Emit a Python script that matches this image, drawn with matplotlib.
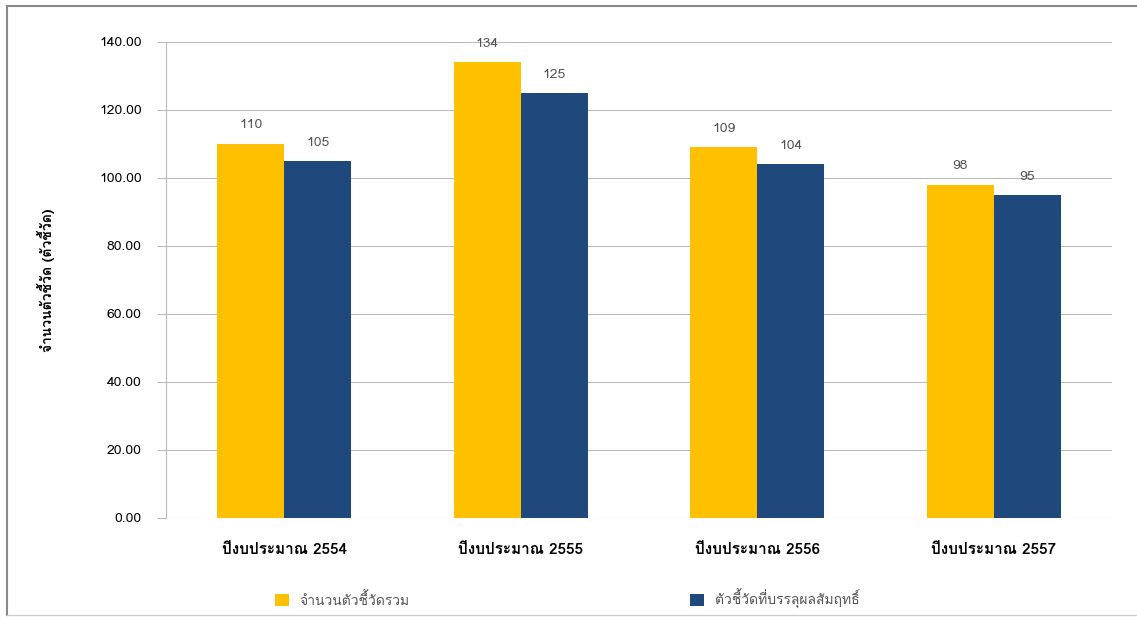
import matplotlib
matplotlib.use("Agg")
import matplotlib.pyplot as plt
from matplotlib import font_manager
from matplotlib.ft2font import FT2Font
import numpy as np

# look for an installed font that has Thai glyphs
thai_font = None
for f in font_manager.fontManager.ttflist:
    try:
        if 0x0E01 in FT2Font(f.fname).get_charmap():
            thai_font = f.name
            break
    except Exception:
        pass
fams = ([thai_font] if thai_font else []) + ["DejaVu Sans"]
plt.rcParams["font.family"] = fams

years = ["ปีงบประมาณ 2554", "ปีงบประมาณ 2555", "ปีงบประมาณ 2556", "ปีงบประมาณ 2557"]
total = [110, 134, 109, 98]
achieved = [105, 125, 104, 95]
series_names = ["จำนวนตัวชี้วัดรวม", "ตัวชี้วัดที่บรรลุผลสัมฤทธิ์"]
yticks = [0, 20, 40, 60, 80, 100, 120, 140]

fig = plt.figure(figsize=(11.37, 6.17), dpi=100)
ax = fig.add_axes([166/1137, 1-518/617, (1112-166)/1137, (518-42)/617])

x = np.arange(len(years))
w = 0.284
b1 = ax.bar(x - w/2, total, w, color="#FFC000", label=series_names[0], zorder=3)
b2 = ax.bar(x + w/2, achieved, w, color="#1F497D", label=series_names[1], zorder=3)
for bars in (b1, b2):
    for r in bars:
        ax.annotate(f"{r.get_height():.0f}", (r.get_x() + r.get_width()/2, r.get_height()),
                    xytext=(0, 9), textcoords="offset points", ha="center", va="bottom",
                    fontsize=10, color="#555555")

ax.set_xlim(-0.5, 3.5)
ax.set_ylim(0, 140)
ax.set_yticks(yticks)
ax.set_yticklabels([f"{v:.2f}" for v in yticks], fontsize=10)
ax.set_xticks(x)
ax.set_xticklabels(years, fontsize=11, fontweight="bold")
ax.grid(axis="y", color="#BBBBBB", linewidth=0.8, zorder=0)
ax.tick_params(axis="y", length=6.5, color="#BBBBBB", pad=11)
ax.tick_params(axis="x", length=0, pad=18)
for s in ["top", "right", "bottom"]:
    ax.spines[s].set_visible(False)
ax.spines["left"].set_color("#BBBBBB")
ax.set_ylabel("จำนวนตัวชี้วัด (ตัวชี้วัด)", fontsize=10, fontweight="bold", labelpad=32)

fig.legend(loc="lower center", bbox_to_anchor=(0.499, 0.0), ncol=2, frameon=False,
           fontsize=10, handlelength=1.0, handleheight=1.0, columnspacing=20.2,
           labelcolor="#555555", borderaxespad=0.2)

# outer frame
fig.add_artist(plt.Line2D([7/1137, 7/1137], [2/617, 1-6/617], transform=fig.transFigure,
                          color="#888888", linewidth=1.5))
fig.add_artist(plt.Line2D([7/1137, 1], [1-6/617, 1-6/617], transform=fig.transFigure,
                          color="#888888", linewidth=1.5))
fig.add_artist(plt.Line2D([7/1137, 1], [2/617, 2/617], transform=fig.transFigure,
                          color="#CCCCCC", linewidth=1))

fig.savefig("out.png", dpi=100)
